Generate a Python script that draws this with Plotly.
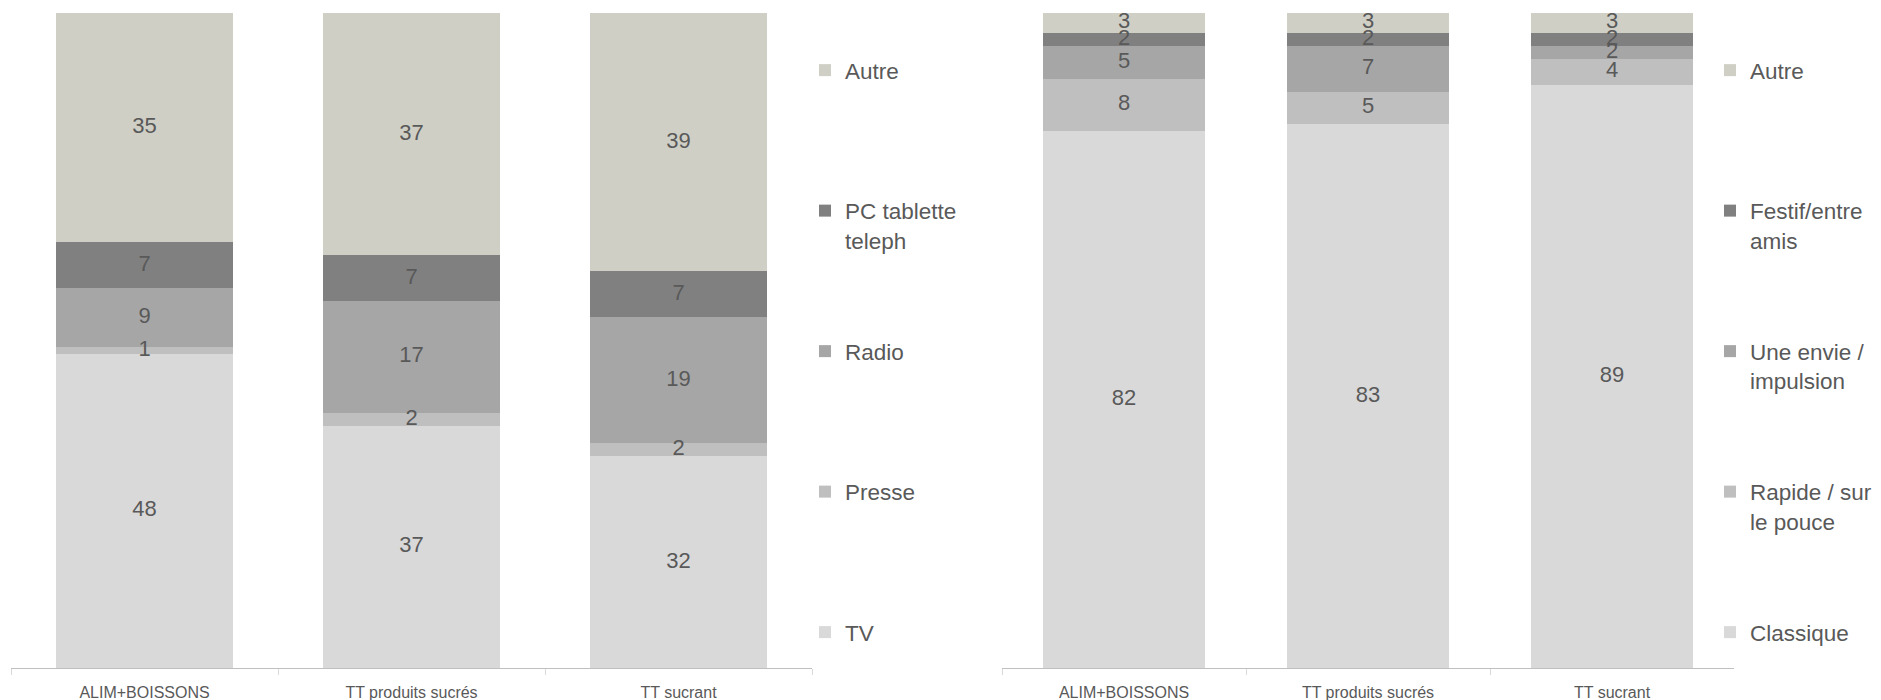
import plotly.graph_objects as go

categories = ["ALIM+BOISSONS", "TT produits sucrés", "TT sucrant"]

# Left chart: media
left_series = ["TV", "Presse", "Radio", "PC tablette<br>teleph", "Autre"]
left_tv = [48, 37, 32]
left_presse = [1, 2, 2]
left_radio = [9, 17, 19]
left_pc = [7, 7, 7]
left_autre = [35, 37, 39]
left_values = [left_tv, left_presse, left_radio, left_pc, left_autre]

# Right chart: occasion
right_series = ["Classique", "Rapide / sur<br>le pouce", "Une envie /<br>impulsion", "Festif/entre<br>amis", "Autre"]
right_classique = [82, 83, 89]
right_rapide = [8, 5, 4]
right_envie = [5, 7, 2]
right_festif = [2, 2, 2]
right_autre = [3, 3, 3]
right_values = [right_classique, right_rapide, right_envie, right_festif, right_autre]

colors = ["#D9D9D9", "#BFBFBF", "#A6A6A6", "#808080", "#CFCFC6"]
TXT = "#595959"
FONT = "Liberation Sans, Arial, sans-serif"

# page has an 8px body margin; figure sized to fit the 1881x700 window
OFF = 8
W, H = 1881 - OFF, 700 - OFF
MT, MB = 13 - OFF, 32

fig = go.Figure()


def add_chart(series, values, xa, ya, legend):
    n = len(series)
    for i, (name, vals) in enumerate(zip(series, values)):
        label = name if "<br>" in name else name + "<br> "
        fig.add_trace(go.Bar(
            x=categories, y=vals, name=label, marker=dict(color=colors[i], line=dict(width=0)),
            xaxis=xa, yaxis=ya, legend=legend, legendgroup=legend + str(i),
            legendrank=100 * (n - i), hoverinfo="skip",
        ))
    totals = [sum(v[j] for v in values) for j in range(len(categories))]
    for i, vals in enumerate(values):
        mids = []
        for j in range(len(categories)):
            below = sum(values[k][j] for k in range(i))
            mids.append((below + vals[j] / 2) / totals[j] * 100)
        fig.add_trace(go.Scatter(
            x=categories, y=mids, text=[str(v) for v in vals], mode="text",
            textfont=dict(family=FONT, size=22, color=TXT),
            xaxis=xa, yaxis=ya, showlegend=False, hoverinfo="skip",
        ))


add_chart(left_series, left_values, "x", "y", "legend")
add_chart(right_series, right_values, "x2", "y2", "legend2")

axis_common = dict(
    type="category", showline=True, linecolor="#BFBFBF", linewidth=1,
    ticks="outside", tickson="boundaries", ticklen=6, tickcolor="#D9D9D9",
    ticklabelstandoff=10,
    showgrid=False, tickfont=dict(family=FONT, size=16, color=TXT), fixedrange=True,
)
yaxis_common = dict(range=[0, 100], visible=False, showgrid=False, fixedrange=True)

legend_common = dict(
    font=dict(family=FONT, size=22.5, color=TXT), traceorder="grouped",
    tracegroupgap=79, valign="top", yanchor="top", xanchor="left",
    bgcolor="rgba(0,0,0,0)", itemclick=False, itemdoubleclick=False,
)

ly = 1 - (41 - MT) / (H - MT - MB)

fig.update_layout(
    width=W, height=H,
    margin=dict(l=0, r=0, t=MT, b=MB),
    paper_bgcolor="white", plot_bgcolor="white",
    barmode="stack", barnorm="percent", bargap=0.334,
    xaxis=dict(domain=[(11 - OFF) / W, (812 - OFF) / W], anchor="y", **axis_common),
    yaxis=dict(domain=[0, 1], anchor="x", **yaxis_common),
    xaxis2=dict(domain=[(1002 - OFF) / W, (1734 - OFF) / W], anchor="y2", **axis_common),
    yaxis2=dict(domain=[0, 1], anchor="x2", **yaxis_common),
    legend=dict(x=797 / W, y=ly, **legend_common),
    legend2=dict(x=1702 / W, y=ly, **legend_common),
    font=dict(family=FONT, color=TXT),
)

fig.write_html("out.html")
